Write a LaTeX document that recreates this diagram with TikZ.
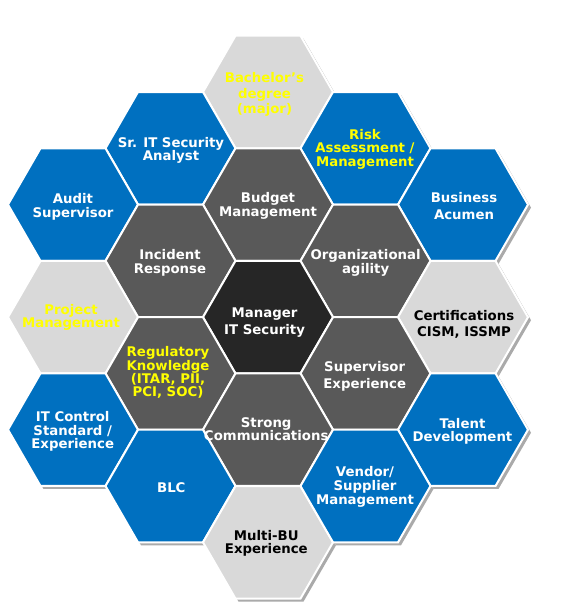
\documentclass[tikz,border=0pt]{standalone}
\usepackage{fontspec}
\setmainfont{DejaVu Sans}
\usetikzlibrary{shapes.geometric}
\definecolor{hexblue}{RGB}{0,112,192}
\definecolor{hexdark}{RGB}{89,89,89}
\definecolor{hexcore}{RGB}{38,38,38}
\definecolor{hexlight}{RGB}{217,217,217}
\definecolor{hexshadow}{RGB}{170,170,170}
\definecolor{txtyellow}{RGB}{255,255,0}
\newcommand\hexstrut{\vrule height 10.5pt depth 0pt width 0pt\relax}
\newcommand\tightlines{\lineskiplimit=-\maxdimen\relax}
\newcommand\hexfont[1]{\bfseries\fontsize{13.3}{#1}\selectfont\tightlines}
\begin{document}
\begin{tikzpicture}[x=1pt,y=-1pt,
  hexbase/.style={regular polygon, regular polygon sides=6, minimum size=130pt, inner sep=0pt, outer sep=0pt},
  hexshape/.style={hexbase, draw=white, line width=2pt, fill=#1},
  hexshade/.style={hexbase, fill=hexshadow},
  lbl/.style={anchor=north, inner sep=0pt, outer sep=0pt, align=center, font={\hexfont{#1}}},
  wtxt/.style={lbl=#1, text=white},
  ytxt/.style={lbl=#1, text=txtyellow},
  ktxt/.style={lbl=#1, text=black}
]
\useasboundingbox[fill=white] (0,0) rectangle (562,608);

% shadows
\foreach \n/\x/\y in {a/268/92, b/170.5/148.3, c/365.5/148.3, d/73/204.6, e/268/204.6, f/463/204.6,
  g/170.5/260.9, h/365.5/260.9, i/73/317.2, j/268/317.2, k/463/317.2, l/170.5/373.5, m/365.5/373.5,
  n/73/429.7, o/268/429.7, p/463/429.7, q/170.5/486, r/365.5/486, s/268/542.3}
  \node[hexshade] (sh\n) at (\x+3,\y+3) {};

% hexagons
\node[hexshape=hexlight] (bach) at (268,92) {};
\node[hexshape=hexblue]  (srit) at (170.5,148.3) {};
\node[hexshape=hexblue]  (risk) at (365.5,148.3) {};
\node[hexshape=hexblue]  (audit) at (73,204.6) {};
\node[hexshape=hexdark]  (budget) at (268,204.6) {};
\node[hexshape=hexblue]  (business) at (463,204.6) {};
\node[hexshape=hexdark]  (incident) at (170.5,260.9) {};
\node[hexshape=hexdark]  (org) at (365.5,260.9) {};
\node[hexshape=hexlight] (project) at (73,317.2) {};
\node[hexshape=hexcore]  (manager) at (268,317.2) {};
\node[hexshape=hexlight] (cert) at (463,317.2) {};
\node[hexshape=hexdark]  (reg) at (170.5,373.5) {};
\node[hexshape=hexdark]  (superv) at (365.5,373.5) {};
\node[hexshape=hexblue]  (itcontrol) at (73,429.7) {};
\node[hexshape=hexdark]  (strong) at (268,429.7) {};
\node[hexshape=hexblue]  (talent) at (463,429.7) {};
\node[hexshape=hexblue]  (blc) at (170.5,486) {};
\node[hexshape=hexlight] (multibu) at (268,542.3) {};

% texts
\node[ytxt=15.7] (tbach) at (264.5,71.8) {\hexstrut Bachelor’s\\degree\\(major)};
\node[wtxt=13.4] (tsrit) at (171,136.8) {\hexstrut Sr. IT Security\\Analyst};
\node[ytxt=13.8] (trisk) at (365,128.5) {\hexstrut Risk\\Assessment /\\Management};
\node[wtxt=14] (taudit) at (73,192.8) {\hexstrut Audit\\Supervisor};
\node[wtxt=14] (tbudget) at (268,191.5) {\hexstrut Budget\\Management};
\node[wtxt=16.7] (tbusiness) at (464,191.8) {\hexstrut Business\\Acumen};
\node[wtxt=14] (tincident) at (170,248.8) {\hexstrut Incident\\Response};
\node[wtxt=14] (torg) at (365.6,248.8) {\hexstrut Organizational\\agility};
\node[ytxt=13.7] (tproject) at (71,303.5) {\hexstrut Project\\Management};
\node[wtxt=17] (tmanager) at (264.6,307) {\hexstrut Manager\\IT Security};
\node[ktxt=16.7] (tcert) at (464,309.5) {\hexstrut Certifications\\CISM, ISSMP};
\node[ytxt=13.3] (treg) at (168,346.2) {\hexstrut Regulatory\\Knowledge\\(ITAR, PII,\\PCI, SOC)};
\node[wtxt=16.3] (tsuperv) at (364.7,361.2) {\hexstrut Supervisor\\Experience};
\node[wtxt=13.7] (titcontrol) at (72.7,411) {\hexstrut IT Control\\Standard /\\Experience};
\node[wtxt=12.7] (tstrong) at (266.2,416.8) {\hexstrut Strong\\Communications};
\node[wtxt=13.4] (ttalent) at (462.5,417.8) {\hexstrut Talent\\Development};
\node[wtxt=13] (tblc) at (171.3,481.8) {\hexstrut BLC};
\node[ktxt=13.3] (tmultibu) at (266.3,529.5) {\hexstrut Multi-BU\\Experience};

% last hexagon drawn over the overflowing text
\node[hexshape=hexblue] (vendor) at (365.5,486) {};
\node[wtxt=13.8] (tvendor) at (365,466.2) {\hexstrut Vendor/\\Supplier\\Management};
\end{tikzpicture}
\end{document}
